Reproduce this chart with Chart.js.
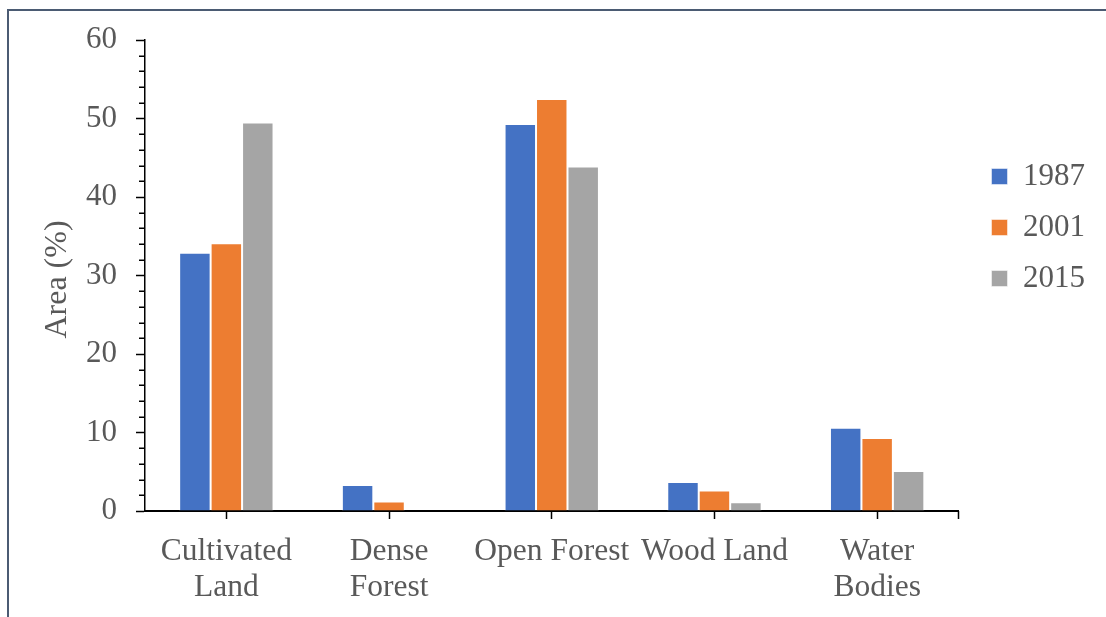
<!DOCTYPE html>
<html>
<head>
<meta charset="utf-8">
<script src="https://cdn.jsdelivr.net/npm/chart.js@4.4.1/dist/chart.umd.min.js"></script>
<style>
  html, body { margin: 0; padding: 0; background: #fff; overflow: hidden; }
  #wrap { position: relative; width: 1106px; height: 617px; }
  #frame {
    position: absolute; left: 7px; top: 9px; width: 1200px; height: 700px;
    border-left: 2px solid #4b5b73; border-top: 2px solid #4b5b73;
    pointer-events: none;
  }
</style>
</head>
<body>
<div id="wrap">
  <canvas id="c" width="1106" height="617"></canvas>
  <div id="frame"></div>
</div>
<script>
// Land cover classes and their share of total area (%) per survey year
const categories = [['Cultivated', 'Land'], ['Dense', 'Forest'], 'Open Forest', 'Wood Land', ['Water', 'Bodies']];
const years = ['1987', '2001', '2015'];
const area1987 = [32.9, 3.3, 49.3, 3.7, 10.6];
const area2001 = [34.1, 1.2, 52.5, 2.6, 9.3];
const area2015 = [49.5, 0.0, 43.9, 1.1, 5.1];
const yMin = 0, yMax = 60, yStep = 10, yMinorStep = 2;

const seriesColors = ['#4472C4', '#ED7D31', '#A5A5A5'];
const textColor = '#595959';
const serif = "'Liberation Serif', 'Times New Roman', serif";

// Minor ticks on the value axis, closing tick at the end of the category axis,
// and legend placement beside the plot.
const axisExtras = {
  id: 'axisExtras',
  beforeLayout(chart) {
    const lg = chart.legend;
    if (lg && !lg._fixedWidth) {
      const fit = lg.fit.bind(lg);
      lg.fit = function () { fit(); this.width = 147.5; };
      lg._fixedWidth = true;
    }
  },
  afterLayout(chart) {
    const lg = chart.legend;
    const ca = chart.chartArea;
    if (!lg) return;
    const w = lg.width, h = lg.height;
    lg.left = ca.right + 13;
    lg.right = lg.left + w;
    lg.top = 141;
    lg.bottom = lg.top + h;
  },
  afterDraw(chart) {
    const y = chart.scales.y, x = chart.scales.x, ctx = chart.ctx;
    ctx.save();
    ctx.strokeStyle = '#000';
    ctx.lineWidth = 1.5;
    ctx.beginPath();
    for (let v = yMin; v <= yMax; v += yMinorStep) {
      if (v % yStep === 0) continue;
      const py = Math.round(y.getPixelForValue(v)) + 0.25;
      ctx.moveTo(y.right - 6, py);
      ctx.lineTo(y.right, py);
    }
    ctx.moveTo(x.right, x.top);
    ctx.lineTo(x.right, x.top + 8);
    ctx.stroke();
    ctx.restore();
  }
};

const datasets = [area1987, area2001, area2015].map((vals, i) => ({
  label: years[i],
  data: vals,
  backgroundColor: seriesColors[i],
  borderColor: 'rgba(255,255,255,0.5)',
  borderWidth: 1,
  borderSkipped: 'start',
  categoryPercentage: 0.58,
  barPercentage: 1.0
}));

new Chart(document.getElementById('c'), {
  type: 'bar',
  data: { labels: categories, datasets },
  plugins: [axisExtras],
  options: {
    responsive: false,
    animation: false,
    devicePixelRatio: 1,
    layout: { padding: { top: 40, right: 0, bottom: 0, left: 0 } },
    plugins: {
      tooltip: { enabled: false },
      legend: {
        position: 'right',
        align: 'start',
        labels: {
          boxWidth: 16,
          boxHeight: 16,
          padding: 20,
          color: textColor,
          font: { family: serif, size: 31 }
        }
      }
    },
    scales: {
      x: {
        offset: true,
        grid: {
          offset: false,
          drawOnChartArea: false,
          drawTicks: true,
          tickLength: 8,
          tickColor: '#000',
          tickWidth: 1.5
        },
        border: { display: true, color: '#000', width: 2 },
        ticks: {
          color: textColor,
          padding: 15,
          maxRotation: 0,
          autoSkip: false,
          font: { family: serif, size: 31.5, lineHeight: 1.14 }
        },
        afterFit(scale) { scale.height = 106; }
      },
      y: {
        min: yMin,
        max: yMax,
        grid: {
          drawOnChartArea: false,
          drawTicks: true,
          tickLength: 9,
          tickColor: '#000',
          tickWidth: 1.5
        },
        border: { display: true, color: '#000', width: 1.5 },
        ticks: {
          stepSize: yStep,
          color: textColor,
          padding: 19,
          font: { family: serif, size: 31 }
        },
        title: {
          display: true,
          text: 'Area (%) ',
          color: textColor,
          padding: { top: 38, bottom: 0 },
          font: { family: serif, size: 32, lineHeight: 1.2 }
        },
        afterFit(scale) { scale.width = 145; }
      }
    }
  }
});
</script>
</body>
</html>
